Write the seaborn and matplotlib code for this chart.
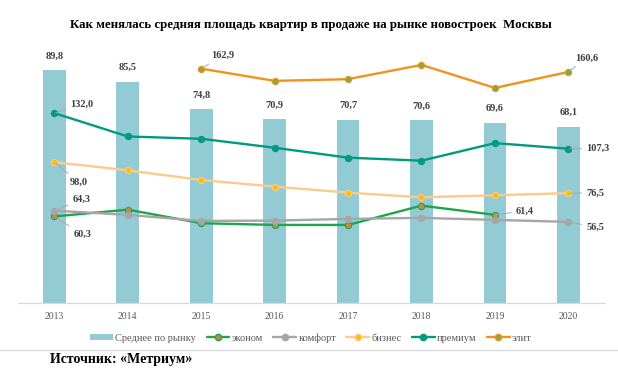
import numpy as np
import pandas as pd
import matplotlib
matplotlib.use("Agg")
import matplotlib.pyplot as plt
from matplotlib.patches import Patch
from matplotlib.lines import Line2D
import seaborn as sns

years = ["2013", "2014", "2015", "2016", "2017", "2018", "2019", "2020"]
avg_market = [89.8, 85.5, 74.8, 70.9, 70.7, 70.6, 69.6, 68.1]
econom = [60.3, 65.0, 55.6, 54.4, 54.4, 67.8, 61.4, np.nan]
komfort = [64.3, 61.4, 57.2, 57.4, 58.6, 59.3, 57.9, 56.5]
biznes = [98.0, 92.3, 85.6, 81.0, 76.8, 73.6, 75.0, 76.5]
premium = [132.0, 115.8, 114.2, 108.0, 101.1, 99.0, 111.2, 107.3]
elit = [np.nan, np.nan, 162.9, 154.4, 155.6, 165.5, 149.5, 160.6]

series_names = ["эконом", "комфорт", "бизнес", "премиум", "элит"]
bar_name = "Среднее по рынку"
title = "Как менялась средняя площадь квартир в продаже на рынке новостроек  Москвы"
source = "Источник: «Метриум»"

sns.set_theme(style="white")
plt.rcParams["font.family"] = ["Liberation Serif", "DejaVu Serif"]

BAR_C = "#93CBD5"
styles = {
    "эконом": dict(line="#1DA54B", mfc="#C88A3C", mec="#1DA54B"),
    "комфорт": dict(line="#A6A6A6", mfc="#A6A6A6", mec="#A6A6A6"),
    "бизнес": dict(line="#F9CB8C", mfc="#FFC000", mec="#F9CB8C"),
    "премиум": dict(line="#019A7E", mfc="#019A7E", mec="#019A7E"),
    "элит": dict(line="#F1921F", mfc="#7DAE3E", mec="#F1921F"),
}
LBL = "#404040"

fig = plt.figure(figsize=(6.18, 3.76), dpi=100)
ax = fig.add_axes([17.7 / 618, 1 - 303.3 / 376, (605 - 17.7) / 618, (303.3 - 44) / 376])

df_bar = pd.DataFrame({"year": years, "avg": avg_market})
sns.barplot(data=df_bar, x="year", y="avg", ax=ax, color=BAR_C, width=0.31,
            saturation=1, edgecolor="none")
ax.set_ylim(0, 100)
ax.set_xlim(-0.5, 7.5)
for i, v in enumerate(avg_market):
    ax.annotate(f"{v:.1f}".replace(".", ","), (i, v), xytext=(0, 7),
                textcoords="offset points", ha="center", va="bottom",
                fontsize=7.5, fontweight="bold", color=LBL)

ax2 = ax.twinx()
ax2.set_ylim(0, 180)
pos = np.arange(len(years))
data_map = {"эконом": econom, "комфорт": komfort, "бизнес": biznes,
            "премиум": premium, "элит": elit}
for name in series_names:
    st = styles[name]
    d = pd.DataFrame({"x": pos, "y": data_map[name]}).dropna()
    sns.lineplot(data=d, x="x", y="y", ax=ax2, color=st["line"], linewidth=1.7,
                 marker="o", markersize=4.5, markerfacecolor=st["mfc"],
                 markeredgecolor=st["mec"], markeredgewidth=0.8,
                 estimator=None, sort=False)

# point labels (offsets in pixels -> points)
px = 0.72
labels = [
    ("премиум", 0, 16, -9, "left"),
    ("бизнес", 0, 15, 20, "left"),
    ("комфорт", 0, 18, -11, "left"),
    ("эконом", 0, 19, 18, "left"),
    ("элит", 2, 10, -13, "left"),
    ("элит", 7, 7, -14, "left"),
    ("премиум", 7, 18, 0, "left"),
    ("бизнес", 7, 18, 0, "left"),
    ("комфорт", 7, 18, 5, "left"),
    ("эконом", 6, 21, -4, "left"),
]
for name, i, dx, dy, ha in labels:
    v = data_map[name][i]
    ax2.annotate(f"{v:.1f}".replace(".", ","), (i, v),
                 xytext=(dx * px, -dy * px), textcoords="offset points",
                 ha=ha, va="center", fontsize=7.5, fontweight="bold", color=LBL,
                 arrowprops=dict(arrowstyle="-", color="#A6A6A6", lw=0.7,
                                 shrinkA=1, shrinkB=1))

for a in (ax, ax2):
    a.set_xlabel("")
    a.set_ylabel("")
    a.set_yticks([])
    for s in ["top", "left", "right"]:
        a.spines[s].set_visible(False)
    a.grid(False)
ax2.spines["bottom"].set_visible(False)
ax.spines["bottom"].set_color("#D9D9D9")
ax.spines["bottom"].set_linewidth(0.9)
ax.set_xticks(pos)
ax.set_xticklabels(years)
ax.tick_params(axis="x", length=0, pad=6, labelsize=7, labelcolor="#595959")

fig.text(311 / 618, 1 - 25 / 376, title, ha="center", va="center",
         fontsize=9.3, fontweight="bold", color="#000000")

handles = [Patch(facecolor=BAR_C, edgecolor="none", label=bar_name)]
for name in series_names:
    st = styles[name]
    handles.append(Line2D([0], [0], color=st["line"], lw=1.7, marker="o",
                          markersize=4.5, markerfacecolor=st["mfc"],
                          markeredgecolor=st["mec"], label=name))
fig.legend(handles=handles, loc="center", bbox_to_anchor=(311 / 618, 1 - 338 / 376),
           ncol=6, frameon=False, fontsize=7.5, handlelength=2.2,
           handleheight=0.5, columnspacing=1.0, handletextpad=0.2,
           labelcolor="#595959")

fig.add_artist(Line2D([0, 1], [1 - 350 / 376, 1 - 350 / 376], color="#D9D9D9",
                      lw=0.9, transform=fig.transFigure))
fig.text(50 / 618, 1 - 359 / 376, source, ha="left", va="center",
         fontsize=10, fontweight="bold", color="#000000")

fig.savefig("out.png", dpi=100)
